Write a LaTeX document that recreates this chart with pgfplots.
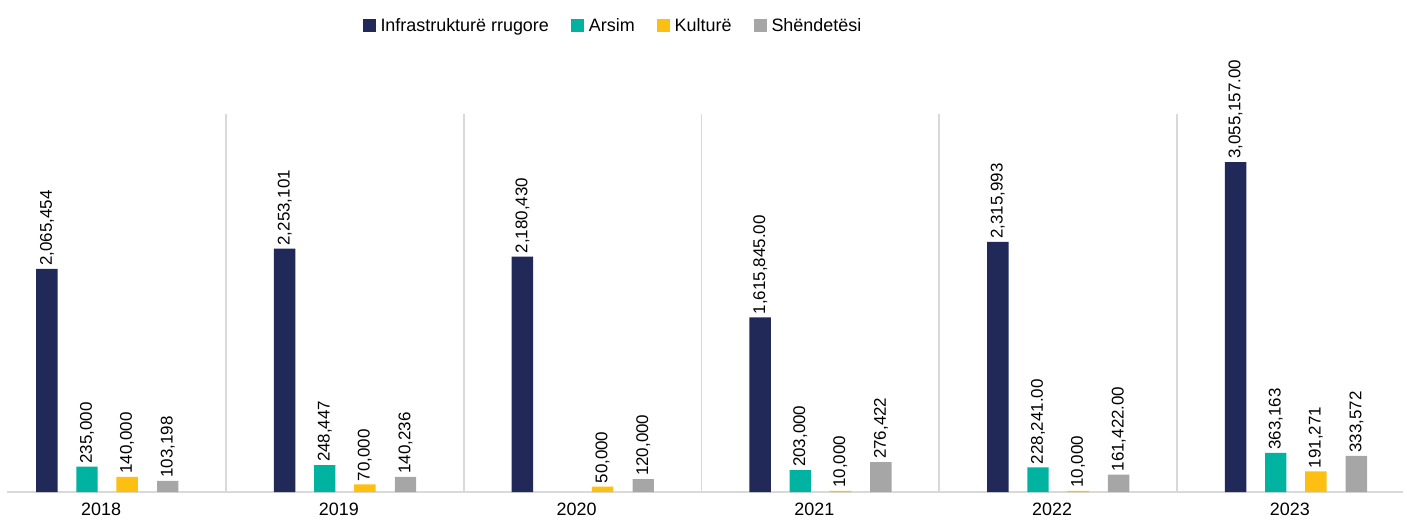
\documentclass[border=0pt]{standalone}
\usepackage{fontspec}
\setmainfont{Liberation Sans}
\usepackage{pgfplots}
\pgfplotsset{compat=1.18}
\definecolor{cnavy}{RGB}{33,41,89}
\definecolor{cteal}{RGB}{0,178,160}
\definecolor{cyellow}{RGB}{253,192,18}
\definecolor{cgray}{RGB}{166,166,166}
\definecolor{cline}{RGB}{217,217,217}
\begin{document}
\begin{tikzpicture}
\begin{axis}[
  at={(0,0)}, anchor=south west,
  scale only axis,
  width=1396bp, height=378bp,
  xmin=-0.421, xmax=5.451,
  ymin=0, ymax=3.5e6,
  clip=false,
  ybar,
  bar width=0.09,
  axis y line=none,
  axis x line=bottom,
  x axis line style={draw=cline, line width=2.2bp, -},
  xtick={0,1,2,3,4,5},
  xticklabels={2018,2019,2020,2021,2022,2023},
  major tick length=0pt,
  minor xtick={0.5,1.5,2.5,3.5,4.5},
  minor tick length=0pt,
  xminorgrids=true,
  minor grid style={draw=cline, line width=1.8bp},
  xticklabel style={font=\fontsize{18}{21}\selectfont, yshift=-7bp, xshift=-6bp},
  every axis plot/.append style={draw=none},
  nodes near coords,
  point meta=explicit symbolic,
  nodes near coords style={rotate=90, anchor=west, inner sep=3bp, font=\fontsize{17}{19}\selectfont, text=black},
  legend columns=4,
  legend style={at={(rel axis cs:0.434,1.233)}, anchor=center, draw=none, fill=none,
    font=\fontsize{18}{21}\selectfont, column sep=0bp,
    /tikz/every even column/.append style={column sep=20bp}},
  legend image code/.code={\fill[#1] (0bp,-6.5bp) rectangle (13bp,6.5bp); \path (16bp,0bp);},
]
\addplot[fill=cnavy, bar shift=-0.253] coordinates {
 (0,2065454) [2,065,454]
 (1,2253101) [2,253,101]
 (2,2180430) [2,180,430]
 (3,1615845) [1,615,845.00]
 (4,2315993) [2,315,993]
 (5,3055157) [3,055,157.00]
};
\addlegendentry{Infrastrukturë rrugore}
\addplot[fill=cteal, bar shift=-0.0843] coordinates {
 (0,235000) [235,000]
 (1,248447) [248,447]
 (3,203000) [203,000]
 (4,228241) [228,241.00]
 (5,363163) [363,163]
};
\addlegendentry{Arsim}
\addplot[fill=cyellow, bar shift=0.0843] coordinates {
 (0,140000) [140,000]
 (1,70000) [70,000]
 (2,50000) [50,000]
 (3,10000) [10,000]
 (4,10000) [10,000]
 (5,191271) [191,271]
};
\addlegendentry{Kulturë}
\addplot[fill=cgray, bar shift=0.255] coordinates {
 (0,103198) [103,198]
 (1,140236) [140,236]
 (2,120000) [120,000]
 (3,276422) [276,422]
 (4,161422) [161,422.00]
 (5,333572) [333,572]
};
\addlegendentry{Shëndetësi}
\end{axis}
\pgfresetboundingbox
\path[use as bounding box] (-7bp,-30bp) rectangle (1400bp,492bp);
\end{tikzpicture}
\end{document}
